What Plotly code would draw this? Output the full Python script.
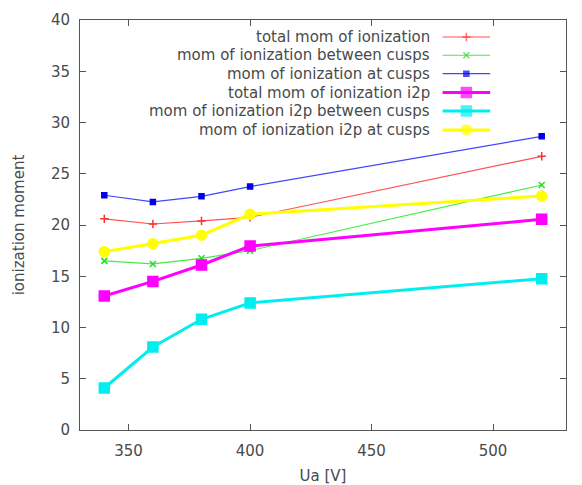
import plotly.graph_objects as go

ua = [340, 360, 380, 400, 520]
total_mom = [20.6, 20.1, 20.4, 20.75, 26.7]
mom_between = [16.5, 16.2, 16.75, 17.5, 23.9]
mom_at = [22.9, 22.25, 22.8, 23.75, 28.65]
total_i2p = [13.07, 14.5, 16.1, 17.95, 20.55]
i2p_between = [4.1, 8.1, 10.8, 12.4, 14.76]
i2p_at = [17.4, 18.17, 19.0, 21.04, 22.83]

names = ["total mom of ionization", "mom of ionization between cusps",
         "mom of ionization at cusps", "total mom of ionization i2p",
         "mom of ionization i2p between cusps", "mom of ionization i2p at cusps"]
series = [total_mom, mom_between, mom_at, total_i2p, i2p_between, i2p_at]
colors = ["#ff5050", "#44ee44", "#4444ff", "#ff00ff", "#00eeee", "#ffff00"]
mcolors = ["#ff3030", "#22dd22", "#0000ee", "#ff00ff", "#00eeee", "#ffff00"]
widths = [1.2, 1.2, 1.2, 3, 3, 3]
symbols = ["cross-thin-open", "x-thin-open", "square", "square", "square", "circle"]
msizes = [6, 6, 5, 10, 10, 10]

FONT = "DejaVu Sans"
FS = 15
TXT = "#4a4a4a"

fig = go.Figure()
for s, n, c, mc, w, sym, ms in zip(series, names, colors, mcolors, widths, symbols, msizes):
    fig.add_trace(go.Scatter(
        x=ua, y=s, mode="lines+markers", name=n, showlegend=False,
        line=dict(color=c, width=w),
        marker=dict(symbol=sym, size=ms, color=mc, line=dict(color=mc, width=1.5)),
    ))

# custom legend (text right-aligned, sample to the right)
rows = [0.9585, 0.914, 0.869, 0.823, 0.778, 0.732]
for n, c, mc, w, sym, ms, yy in zip(names, colors, mcolors, widths, symbols, msizes, rows):
    fig.add_trace(go.Scatter(
        x=[0.746, 0.795, 0.844], y=[yy, yy, yy], xaxis="x2", yaxis="y2",
        mode="lines+markers", showlegend=False, hoverinfo="skip",
        line=dict(color=c, width=w),
        marker=dict(symbol=sym, size=[0, ms, 0], color=mc, line=dict(color=mc, width=1.5)),
    ))
    fig.add_annotation(x=0.7247, y=yy, xref="paper", yref="paper", text=n,
                       showarrow=False, xanchor="right", yanchor="middle",
                       font=dict(family=FONT, size=FS, color=TXT))

axis_common = dict(showgrid=False, zeroline=False, showline=True, linecolor="#555555",
                   linewidth=1, mirror="ticks", ticks="inside", ticklen=6,
                   tickcolor="#555555", automargin=False,
                   tickfont=dict(family=FONT, size=FS, color=TXT))

fig.update_layout(
    width=574, height=477,
    margin=dict(l=72, r=16, t=12, b=55),
    paper_bgcolor="white", plot_bgcolor="white",
    xaxis=dict(range=[330, 530], tickvals=[350, 400, 450, 500],
               title=dict(text="Ua [V]", font=dict(family=FONT, size=FS, color=TXT), standoff=14),
               ticklabelstandoff=7, **axis_common),
    yaxis=dict(range=[0, 40], tickvals=[0, 5, 10, 15, 20, 25, 30, 35, 40],
               title=dict(text="ionization moment", font=dict(family=FONT, size=FS, color=TXT), standoff=22),
               ticklabelstandoff=6, **axis_common),
    xaxis2=dict(range=[0, 1], overlaying="x", visible=False, fixedrange=True),
    yaxis2=dict(range=[0, 1], overlaying="y", visible=False, fixedrange=True),
    font=dict(family=FONT, size=FS, color=TXT),
)

fig.write_html("out.html")
